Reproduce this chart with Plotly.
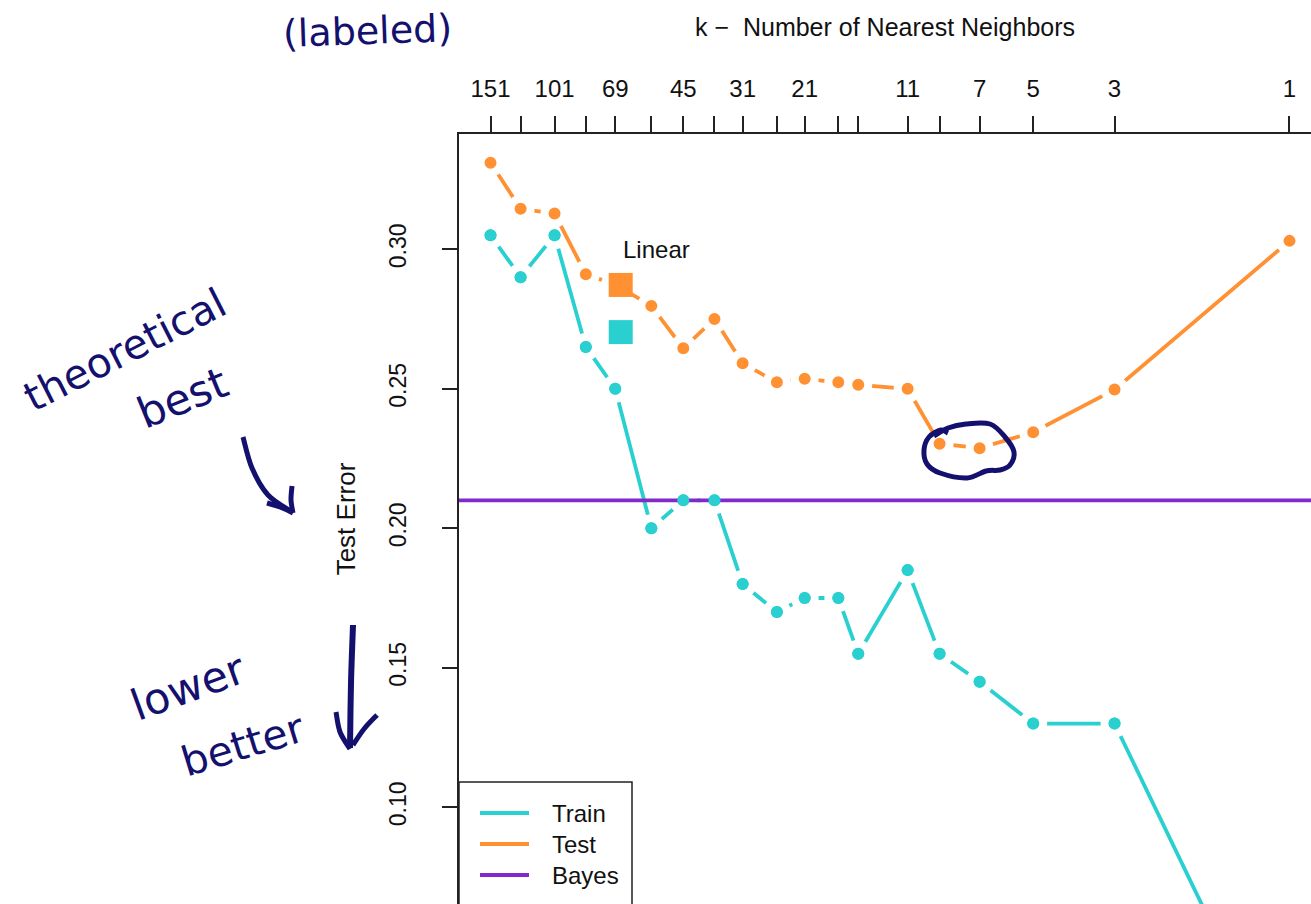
import numpy as np
import plotly.graph_objects as go

# k-nearest-neighbour misclassification error vs. neighbourhood size
N_TRAIN = 200
k_values = [151, 125, 101, 83, 69, 55, 45, 37, 31, 25, 21, 17, 15, 11, 9, 7, 5, 3, 1]
k_labeled = [151, 101, 69, 45, 31, 21, 11, 7, 5, 3, 1]
train_error = [0.305, 0.290, 0.305, 0.265, 0.250, 0.200, 0.210, 0.210, 0.180, 0.170,
               0.175, 0.175, 0.155, 0.185, 0.155, 0.145, 0.130, 0.130, 0.000]
test_error = [0.3310, 0.3145, 0.3128, 0.2910, 0.2874, 0.2797, 0.2645, 0.2750, 0.2591, 0.2523,
              0.2536, 0.2523, 0.2514, 0.2500, 0.2303, 0.2287, 0.2344, 0.2497, 0.3030]
linear_df = 3
linear_train = 0.2703
linear_test = 0.2872
bayes_error = 0.21
y_ticks = [0.10, 0.15, 0.20, 0.25, 0.30]
series_names = ["Train", "Test", "Bayes"]

TRAIN_C = "#2AD0D0"
TEST_C = "#FF9132"
BAYES_C = "#8129C9"
INK = "#14106E"
AXIS_C = "#222222"
FONT = "Liberation Sans, Arial, sans-serif"
HAND = "DejaVu Sans, sans-serif"

W, H = 1311, 904
PLOT_L, PLOT_T = 459, 134
PLOT_W, PLOT_H = W - PLOT_L, H - PLOT_T

# degrees of freedom N/k on a log scale
df = [N_TRAIN / k for k in k_values]
x_range = [0.0361, 2.3597]
y_range = [0.06534, 0.3413]

LINE_W = 3.8
fig = go.Figure()

halo = dict(size=20, line=dict(color="white", width=8))
fig.add_trace(go.Scatter(
    x=df, y=train_error, mode="lines+markers", name=series_names[0],
    line=dict(color=TRAIN_C, width=LINE_W), marker=dict(color=TRAIN_C, **halo),
    showlegend=False, hoverinfo="skip"))
fig.add_trace(go.Scatter(
    x=df, y=test_error, mode="lines+markers", name=series_names[1],
    line=dict(color=TEST_C, width=LINE_W), marker=dict(color=TEST_C, **halo),
    showlegend=False, hoverinfo="skip"))
fig.add_trace(go.Scatter(
    x=[10 ** x_range[0], 10 ** x_range[1]], y=[bayes_error, bayes_error],
    mode="lines", name=series_names[2], line=dict(color=BAYES_C, width=LINE_W),
    showlegend=False, hoverinfo="skip"))
fig.add_trace(go.Scatter(
    x=df, y=train_error, mode="markers", marker=dict(color=TRAIN_C, size=12),
    showlegend=False, hoverinfo="skip"))
fig.add_trace(go.Scatter(
    x=[linear_df, linear_df], y=[linear_test, linear_train], mode="markers",
    marker=dict(symbol="square", size=24, color=[TEST_C, TRAIN_C]),
    showlegend=False, hoverinfo="skip"))

fig.add_annotation(x=np.log10(linear_df), y=0.30, xref="x", yref="y", text="Linear",
                   showarrow=False, xanchor="left", yanchor="middle",
                   font=dict(family=FONT, size=24, color="#111"))


def to_paper(x, y):
    return (x - PLOT_L) / PLOT_W, (PLOT_T + PLOT_H - y) / PLOT_H


# legend box with line samples
shapes = []
lx0, ly1 = to_paper(PLOT_L, 782)
lx1, ly0 = to_paper(632, 940)
shapes.append(dict(type="rect", xref="paper", yref="paper", x0=lx0, x1=lx1, y0=ly0, y1=ly1,
                   line=dict(color=AXIS_C, width=1.5), fillcolor="white", layer="above"))
for name, color, row_y in zip(series_names, [TRAIN_C, TEST_C, BAYES_C], [813, 844, 875]):
    sx0, sy = to_paper(480, row_y)
    sx1, _ = to_paper(529, row_y)
    shapes.append(dict(type="line", xref="paper", yref="paper", x0=sx0, x1=sx1, y0=sy, y1=sy,
                       line=dict(color=color, width=LINE_W), layer="above"))
    tx, _ = to_paper(550, row_y)
    fig.add_annotation(x=tx, y=sy, xref="paper", yref="paper", text=name, showarrow=False,
                       xanchor="left", yanchor="middle",
                       font=dict(family=FONT, size=24, color="#111"))


def smooth_path(points, closed=False):
    p = [np.array(to_paper(*q)) for q in points]
    n = len(p)
    d = f"M {p[0][0]:.5f},{p[0][1]:.5f}"
    for i in (range(n) if closed else range(n - 1)):
        p0 = p[i - 1] if (i > 0 or closed) else p[i]
        p1 = p[i]
        p2 = p[(i + 1) % n]
        p3 = p[(i + 2) % n] if (closed or i + 2 < n) else p2
        c1 = p1 + (p2 - p0) / 6
        c2 = p2 - (p3 - p1) / 6
        d += (f" C {c1[0]:.5f},{c1[1]:.5f} {c2[0]:.5f},{c2[1]:.5f}"
              f" {p2[0]:.5f},{p2[1]:.5f}")
    if closed:
        d += " Z"
    return d


def ink(points, width=5, closed=False):
    shapes.append(dict(type="path", xref="paper", yref="paper",
                       path=smooth_path(points, closed),
                       line=dict(color=INK, width=width), layer="above"))


# hand-drawn arrows and circle
ink([(243, 437), (252, 468), (268, 495), (292, 512)])
ink([(267, 503), (280, 507), (293, 513)])
ink([(292, 486), (291, 500), (293, 513)])
ink([(353, 625), (351, 683), (350, 748)], width=6)
ink([(336, 712), (340, 732), (350, 749)])
ink([(377, 715), (364, 729), (353, 745)])
ink([(934, 436), (948, 428), (966, 424), (990, 424), (1005, 437), (1014, 452),
     (1010, 465), (1000, 470), (986, 471), (967, 478), (940, 473), (927, 464),
     (924, 450), (929, 437), (941, 430), (948, 433)])

# hand-written notes
notes = [
    ("(labeled)", 367, 31, -2, 38),
    ("theoretical", 125, 350, -27, 41),
    ("best", 182, 398, -22, 43),
    ("lower", 188, 687, -20, 43),
    ("better", 243, 745, -17, 41),
]
for text, nx, ny, angle, size in notes:
    ax_, ay_ = to_paper(nx, ny)
    fig.add_annotation(x=ax_, y=ay_, xref="paper", yref="paper", text=text, showarrow=False,
                       textangle=angle, xanchor="center", yanchor="middle",
                       font=dict(family=HAND, size=size, color=INK))

fig.update_layout(
    width=W, height=H,
    margin=dict(l=PLOT_L, r=0, t=PLOT_T, b=0, pad=0),
    paper_bgcolor="white", plot_bgcolor="white",
    showlegend=False,
    shapes=shapes,
    font=dict(family=FONT, size=24, color="#111"),
)
fig.update_xaxes(
    type="log", range=x_range, side="top",
    tickvals=df, ticktext=[str(k) if k in k_labeled else "" for k in k_values],
    ticks="outside", ticklen=16, tickwidth=1.5, tickcolor=AXIS_C,
    showline=True, linecolor=AXIS_C, linewidth=2, mirror=False,
    showgrid=False, zeroline=False, ticklabelstandoff=9,
    tickfont=dict(family=FONT, size=24, color="#111"),
    title=dict(text="k \u2212  Number of Nearest Neighbors", standoff=32,
               font=dict(family=FONT, size=25, color="#111")),
)
fig.update_yaxes(
    range=y_range, tickvals=y_ticks, ticktext=[f"{v:.2f}" for v in y_ticks],
    tickangle=-90, ticks="outside", ticklen=15, tickwidth=1.5, tickcolor=AXIS_C,
    showline=True, linecolor=AXIS_C, linewidth=2, mirror=False,
    showgrid=False, zeroline=False, ticklabelstandoff=27,
    tickfont=dict(family=FONT, size=23, color="#111"),
    title=dict(text="Test Error", standoff=22, font=dict(family=FONT, size=26, color="#111")),
)

fig.write_html("out.html")
